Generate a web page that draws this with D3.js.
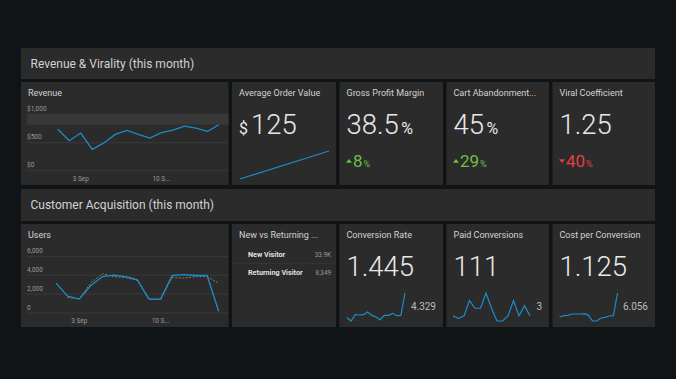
<!DOCTYPE html>
<html><head><meta charset="utf-8">
<script src="https://cdn.jsdelivr.net/npm/d3@7"></script>
<style>
html,body{margin:0;padding:0;background:#111416;}
svg{display:block;font-family:Roboto,"Noto Sans",sans-serif;}
</style></head>
<body>
<svg id="c" width="676" height="379"></svg>
<script>
// ---------- DATA ----------
const sectionTitles = ["Revenue & Virality (this month)", "Customer Acquisition (this month)"];
const days = ["2023-09-01","2023-09-02","2023-09-03","2023-09-04","2023-09-05","2023-09-06","2023-09-07","2023-09-08","2023-09-09","2023-09-10","2023-09-11","2023-09-12","2023-09-13","2023-09-14","2023-09-15"];
const xTickDays = ["2023-09-03","2023-09-10"];
const xTickLabels = ["3 Sep","10 S..."];

const revenueValues = [744,536,672,381,494,649,720,650,583,678,726,797,762,702,821];
const revenueTicks = [0,500,1000];
const revenueTickLabels = ["$0","$500","$1,000"];
const revenueBand = [820,1000];

const usersValues = [3160,1790,1470,2910,3860,4000,3860,3510,1470,1470,3970,4070,3970,3970,180];
const usersPrevious = [null,1650,1480,3200,4150,3850,3750,3450,1450,1450,3750,3700,3850,3850,3150];
const usersTicks = [0,2000,4000,6000];
const usersTickLabels = ["0","2,000","4,000","6,000"];

const aovValues = [98,125];
const conversionRateValues = [1.04,0.6,1.49,1.40,1.44,1.80,1.35,1.13,0.78,1.35,1.35,1.62,1.31,1.35,4.329];
const paidConversionValues = [3,2,3,9,6,6,12,6,1,1,3,9,3,7,3];
const costPerConversionValues = [1.29,1.56,1.62,1.89,1.89,1.89,1.95,1.62,0.5,0.5,1.1,1.23,1.49,1.56,6.056];

const visitorLabels = ["New Visitor","Returning Visitor"];
const visitorValues = ["33.9K","8,349"];

// ---------- STYLE ----------
const C = {panel:"#2b2b2b", grid:"#3d3d3d", band:"#383838", text:"#d2d2d2", big:"#e8e8e8",
  axis:"#9a9a9a", blue:"#1b8ec8", green:"#6cbf46", red:"#e2423d", dash:"#8a8a8a"};

const svg = d3.select("#c");
svg.append("rect").attr("width",676).attr("height",379).attr("fill","#111416");

const cols = [[21,228.5],[232,336],[339.5,443],[446.5,549],[552.5,655]];
const headers = [{y:48,h:31},{y:189,h:32}];
const rows = [{y:82,h:103},{y:224,h:103}];

headers.forEach((h,i)=>{
  svg.append("rect").attr("x",21).attr("y",h.y).attr("width",634).attr("height",h.h).attr("fill",C.panel);
  svg.append("text").attr("x",30.5).attr("y",h.y+h.h/2+4.2).attr("fill",C.text)
    .attr("font-size",12).text(sectionTitles[i]);
});

function panel(col,row,title){
  const x0=cols[col][0], x1=cols[col][1], y0=rows[row].y, h=rows[row].h;
  const g=svg.append("g");
  g.append("rect").attr("x",x0).attr("y",y0).attr("width",x1-x0).attr("height",h).attr("fill",C.panel);
  g.append("text").attr("x",x0+7).attr("y",y0+14).attr("fill",C.text).attr("font-size",9).text(title);
  return {g,x0,x1,y0,h};
}

const parse = d3.utcParse("%Y-%m-%d");

function timeChart(p, values, prev, ticks, tickLabels, yRange, xRange, band){
  const x = d3.scaleUtc().domain([parse(days[0]),parse(days[days.length-1])]).range(xRange);
  const y = d3.scaleLinear().domain([0,ticks[ticks.length-1]]).range(yRange);
  if(band){
    p.g.append("rect").attr("x",p.x0+6).attr("width",p.x1-p.x0-6)
      .attr("y",y(band[1])).attr("height",y(band[0])-y(band[1])).attr("fill",C.band);
  }
  ticks.forEach((t,i)=>{
    p.g.append("line").attr("x1",p.x0+6).attr("x2",p.x1).attr("y1",y(t)).attr("y2",y(t))
      .attr("stroke",C.grid).attr("stroke-width",0.8);
    p.g.append("text").attr("x",p.x0+6).attr("y",y(t)-3.5).attr("fill",C.axis).attr("font-size",6.5).text(tickLabels[i]);
  });
  xTickDays.forEach((d,i)=>{
    p.g.append("text").attr("x",x(parse(d))).attr("y",yRange[0]+10).attr("text-anchor","middle")
      .attr("fill",C.axis).attr("font-size",6.5).text(xTickLabels[i]);
  });
  if(prev){
    const lp=d3.line().defined(d=>d[1]!=null).x(d=>x(parse(d[0]))).y(d=>y(d[1]));
    p.g.append("path").datum(days.map((d,i)=>[d,prev[i]])).attr("d",lp).attr("fill","none")
      .attr("stroke",C.dash).attr("stroke-width",0.9).attr("stroke-dasharray","2,1.5");
  }
  const l=d3.line().x(d=>x(parse(d[0]))).y(d=>y(d[1]));
  p.g.append("path").datum(days.map((d,i)=>[d,values[i]])).attr("d",l).attr("fill","none")
    .attr("stroke",C.blue).attr("stroke-width",1.3);
}

function bigNumber(p, prefix, value, suffix){
  const t=p.g.append("text").attr("x",p.x0+7).attr("y",p.y0+51.5).attr("fill",C.big).attr("font-weight",300);
  if(prefix) t.append("tspan").attr("font-size",16).attr("font-weight",400).text(prefix);
  t.append("tspan").attr("font-size",27.5).attr("dx",prefix?3:0).text(value);
  if(suffix) t.append("tspan").attr("font-size",16).attr("font-weight",400).attr("dx",2.5).text(suffix);
}

function change(p, up, value){
  const col = up?C.green:C.red;
  const cx=p.x0+9.5, cy=p.y0+79;
  const tri = up? `M${cx-3},${cy+1.8}L${cx+3},${cy+1.8}L${cx},${cy-2}Z`
                : `M${cx-3},${cy-1.8}L${cx+3},${cy-1.8}L${cx},${cy+2}Z`;
  p.g.append("path").attr("d",tri).attr("fill",col);
  const t=p.g.append("text").attr("x",p.x0+13.5).attr("y",p.y0+85).attr("fill",col);
  t.append("tspan").attr("font-size",17).text(value);
  t.append("tspan").attr("font-size",9).attr("dx",1).text("%");
}

function spark(p, values, x0, x1, label){
  const x=d3.scaleLinear().domain([0,values.length-1]).range([x0,x1]);
  const y=d3.scaleLinear().domain(d3.extent(values)).range([p.y0+97,p.y0+69]);
  p.g.append("path").datum(values).attr("d",d3.line().x((d,i)=>x(i)).y(d=>y(d)))
    .attr("fill","none").attr("stroke",C.blue).attr("stroke-width",1.2);
  if(label!=null){
    p.g.append("text").attr("x",p.x1-7).attr("y",p.y0+86.3).attr("text-anchor","end")
      .attr("fill","#bdbdbd").attr("font-size",10).text(label);
  }
}

// Row 1
const pRev = panel(0,0,"Revenue");
timeChart(pRev, revenueValues, null, revenueTicks, revenueTickLabels, [170.7,114.7], [57.7,219], revenueBand);

const pAov = panel(1,0,"Average Order Value");
bigNumber(pAov,"$","125",null);
spark(pAov, aovValues, pAov.x0+8, pAov.x0+97, null);

const pGpm = panel(2,0,"Gross Profit Margin");
bigNumber(pGpm,null,"38.5","%");
change(pGpm,true,"8");

const pCart = panel(3,0,"Cart Abandonment...");
bigNumber(pCart,null,"45","%");
change(pCart,true,"29");

const pViral = panel(4,0,"Viral Coefficient");
bigNumber(pViral,null,"1.25",null);
change(pViral,false,"40");

// Row 2
const pUsers = panel(0,1,"Users");
timeChart(pUsers, usersValues, usersPrevious, usersTicks, usersTickLabels, [313,256.3], [56,218.7], null);

const pNvr = panel(1,1,"New vs Returning ...");
visitorLabels.forEach((lab,i)=>{
  const by = pNvr.y0+32.7+i*18;
  pNvr.g.append("text").attr("x",pNvr.x0+16).attr("y",by).attr("fill","#e0e0e0")
    .attr("font-size",7.2).attr("font-weight",700).text(lab);
  pNvr.g.append("text").attr("x",pNvr.x1-5).attr("y",by).attr("text-anchor","end").attr("fill","#9a9a9a")
    .attr("font-size",6.3).text(visitorValues[i]);
});
pNvr.g.append("line").attr("x1",pNvr.x0).attr("x2",pNvr.x1).attr("y1",pNvr.y0+39.3).attr("y2",pNvr.y0+39.3)
  .attr("stroke","#3a3a3a").attr("stroke-width",0.8);

const pCr = panel(2,1,"Conversion Rate");
bigNumber(pCr,null,"1.445",null);
spark(pCr, conversionRateValues, pCr.x0+7.5, pCr.x0+65.5, "4.329");

const pPc = panel(3,1,"Paid Conversions");
bigNumber(pPc,null,"111",null);
spark(pPc, paidConversionValues, pPc.x0+6.5, pPc.x0+83.5, "3");

const pCpc = panel(4,1,"Cost per Conversion");
bigNumber(pCpc,null,"1.125",null);
spark(pCpc, costPerConversionValues, pCpc.x0+7, pCpc.x0+65, "6.056");
</script>
</body></html>
